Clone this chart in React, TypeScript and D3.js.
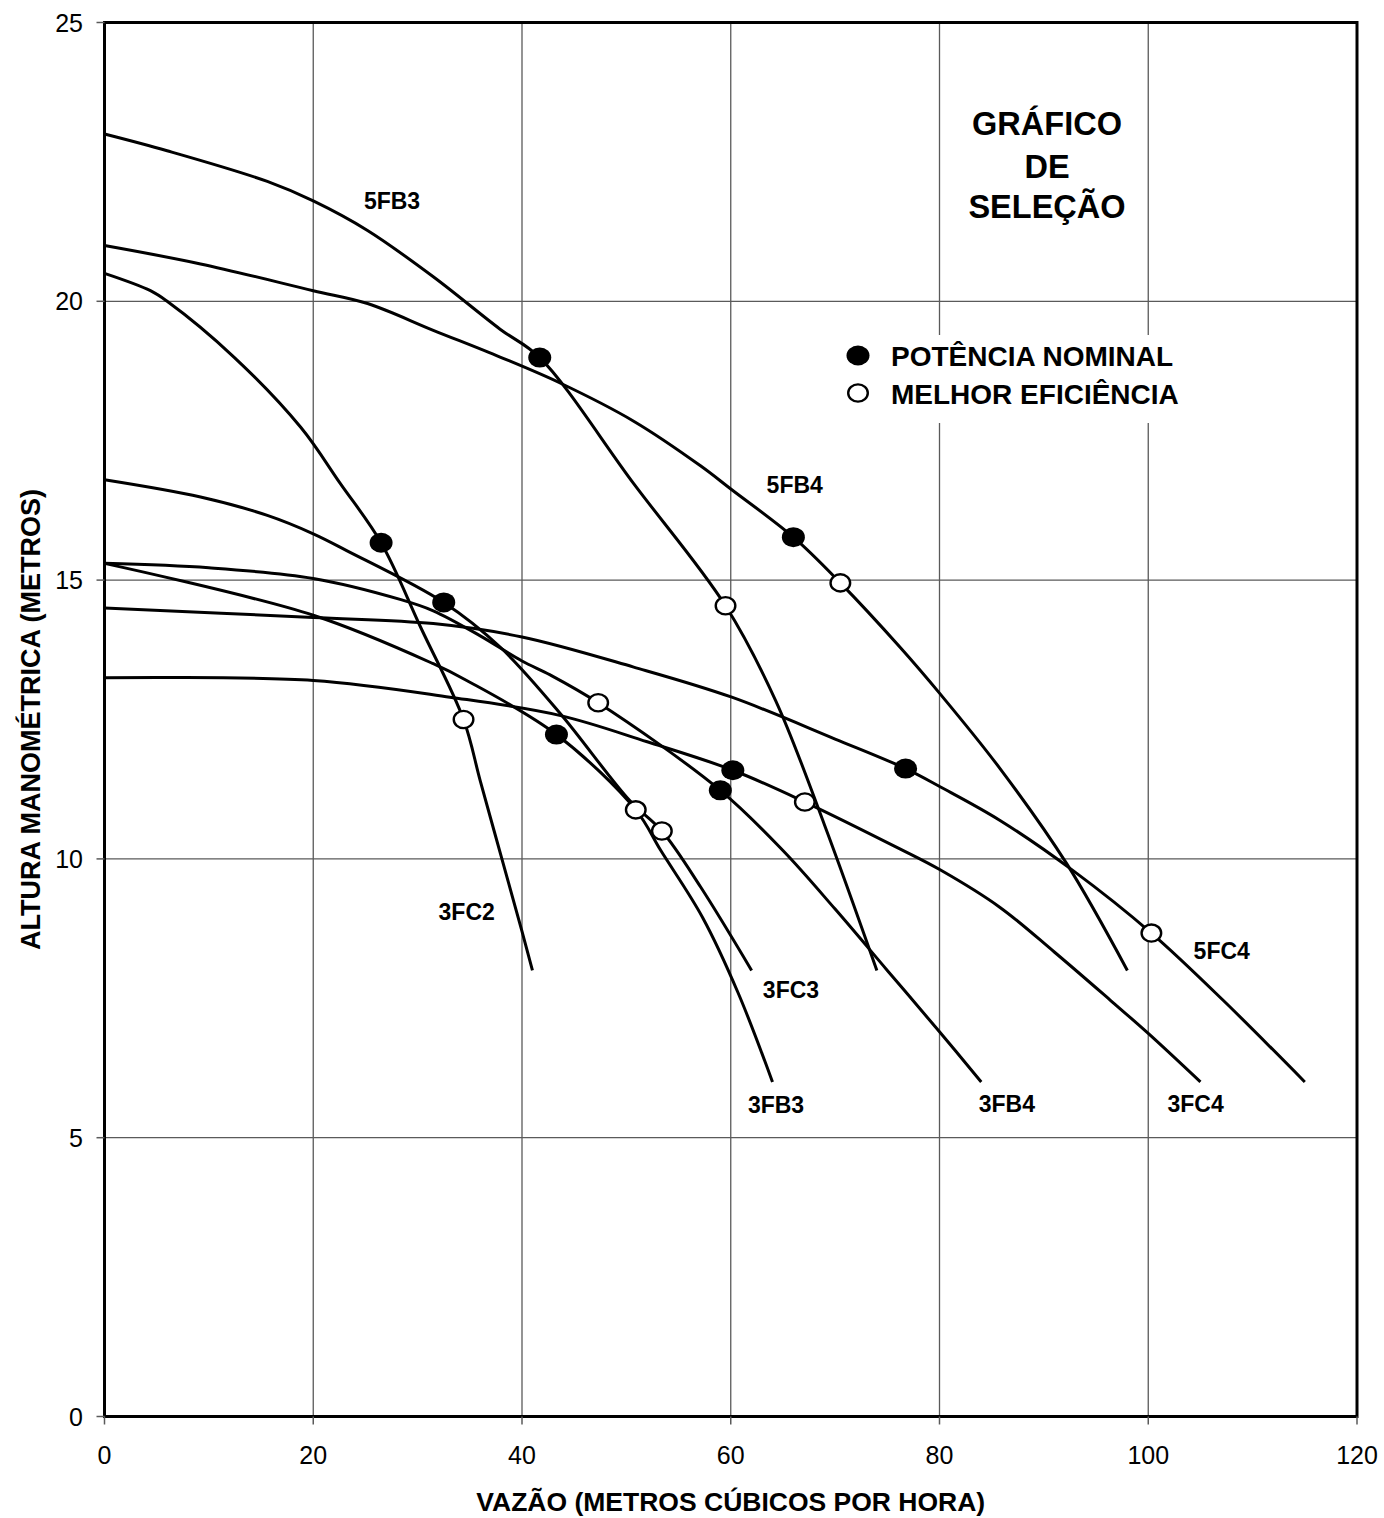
import * as d3 from 'd3';
import { useEffect, useRef } from 'react';

const xTicks = [0, 20, 40, 60, 80, 100, 120];
const yTicks = [0, 5, 10, 15, 20, 25];

const seriesNames = ['5FB3', '5FB4', '5FC4', '3FC2', '3FC3', '3FB3', '3FB4', '3FC4'];

// [vazão m³/h, altura m]
const curve5FB3 = [[0, 23.0], [6, 22.7], [15.6, 22.15], [20, 21.8], [25.2, 21.27], [31.5, 20.44], [37.9, 19.5], [41.7, 18.99], [50.7, 16.73], [59.5, 14.54], [64.3, 12.84], [69, 10.6], [74, 8]];
const curve5FB4 = [[0, 21.0], [9.2, 20.67], [20, 20.19], [25.2, 19.96], [31.5, 19.48], [37.9, 19.0], [43.7, 18.53], [50.7, 17.85], [57.1, 17.05], [60.1, 16.62], [66, 15.77], [70.5, 14.95], [76.2, 13.8], [80.1, 12.95], [85.8, 11.62], [92.2, 9.91], [98, 8]];
const curve5FC4 = [[0, 14.5], [20, 14.33], [31.5, 14.22], [40, 13.98], [50.7, 13.44], [60.1, 12.9], [70, 12.15], [76.75, 11.62], [80.1, 11.29], [85.8, 10.69], [92.8, 9.79], [100.3, 8.67], [107.2, 7.46], [115, 6]];
const curve3FC2 = [[0, 20.5], [4.4, 20.19], [6, 20.0], [12.4, 19.0], [18.8, 17.74], [22.6, 16.73], [26.5, 15.67], [30.3, 14.15], [34.4, 12.5], [36, 11.4], [38, 10.05], [40, 8.7], [41, 8.0]];
const curve3FC3 = [[0, 16.8], [9.2, 16.49], [15.6, 16.16], [20, 15.83], [23.2, 15.53], [32.5, 14.6], [37.9, 13.8], [43.7, 12.6], [50.3, 11.05], [53.4, 10.5], [57.1, 9.5], [62, 8]];
const curve3FB3 = [[0, 15.3], [20, 14.37], [31.5, 13.5], [34.7, 13.2], [43.3, 12.23], [50.9, 10.88], [53.3, 10.15], [57.3, 8.95], [60.7, 7.6], [64, 6]];
const curve3FB4 = [[0, 15.3], [10, 15.22], [20, 15.03], [28.4, 14.65], [31.5, 14.45], [36, 14.0], [40, 13.55], [42.7, 13.3], [47.3, 12.8], [59, 11.23], [65, 10.15], [70, 9.1], [75, 8.0], [80, 6.9], [84, 6]];
const curve3FC4 = [[0, 13.25], [20, 13.2], [33.1, 12.9], [43.7, 12.57], [52, 12.1], [60.2, 11.59], [67.1, 11.02], [76.2, 10.18], [80.1, 9.8], [85.8, 9.13], [91, 8.33], [96.4, 7.46], [100, 6.87], [105, 6]];

const curves = {
    '5FB3': curve5FB3, '5FB4': curve5FB4, '5FC4': curve5FC4, '3FC2': curve3FC2,
    '3FC3': curve3FC3, '3FB3': curve3FB3, '3FB4': curve3FB4, '3FC4': curve3FC4,
};

const potenciaNominal = [['5FB3', 41.7, 18.99], ['5FB4', 66, 15.77], ['5FC4', 76.75, 11.62], ['3FC2', 26.5, 15.67], ['3FC3', 32.5, 14.6], ['3FB3', 43.3, 12.23], ['3FB4', 59, 11.23], ['3FC4', 60.2, 11.59]];
const melhorEficiencia = [['5FB3', 59.5, 14.54], ['5FB4', 70.5, 14.95], ['5FC4', 100.3, 8.67], ['3FC2', 34.4, 12.5], ['3FC3', 53.4, 10.5], ['3FB3', 50.9, 10.88], ['3FB4', 47.3, 12.8], ['3FC4', 67.1, 11.02]];

// where each name sits, in chart units
const labelAt = [['5FB3', 27.55, 21.8], ['5FB4', 66.13, 16.7], ['5FC4', 107.04, 8.35], ['3FC2', 34.7, 9.05], ['3FC3', 65.77, 7.65], ['3FB3', 64.34, 5.59], ['3FB4', 86.45, 5.6], ['3FC4', 104.54, 5.6]];

const titleLines = ['GRÁFICO', 'DE', 'SELEÇÃO'];
const legendItems = ['POTÊNCIA NOMINAL', 'MELHOR EFICIÊNCIA'];

const FONT = "'Liberation Sans', Arial, Helvetica, sans-serif";

function SelectionChart() {
    const svgRef = useRef(null);

    useEffect(() => {
        if (!svgRef.current) return;
        const svg = d3.select(svgRef.current);
        svg.selectAll('*').remove();

        const width = 1384;
        const height = 1518;
        const margin = { top: 22.5, right: 27, bottom: 101.5, left: 104.5 };

        const x = d3.scaleLinear().domain([0, 120]).range([margin.left, width - margin.right]);
        const y = d3.scaleLinear().domain([0, 25]).range([height - margin.bottom, margin.top]);

        svg.append('rect').attr('width', width).attr('height', height).attr('fill', 'white');

        // grid
        svg.append('g').selectAll('line.vx')
            .data(xTicks).enter().append('line')
            .attr('x1', d => x(d)).attr('x2', d => x(d))
            .attr('y1', y(25)).attr('y2', y(0))
            .attr('stroke', '#5a5a5a').attr('stroke-width', 1.3);
        svg.append('g').selectAll('line.hy')
            .data(yTicks).enter().append('line')
            .attr('x1', x(0)).attr('x2', x(120))
            .attr('y1', d => y(d)).attr('y2', d => y(d))
            .attr('stroke', '#5a5a5a').attr('stroke-width', 1.3);

        // legend box hides the grid behind it
        svg.append('rect')
            .attr('x', x(70.3)).attr('y', 335)
            .attr('width', 360).attr('height', 88)
            .attr('fill', 'white');

        const line = d3.line()
            .x(d => x(d[0]))
            .y(d => y(d[1]))
            .curve(d3.curveCatmullRom.alpha(0.5));

        svg.append('g').selectAll('path')
            .data(seriesNames).enter().append('path')
            .attr('d', name => line(curves[name]))
            .attr('fill', 'none')
            .attr('stroke', 'black')
            .attr('stroke-width', 3)
            .attr('stroke-linejoin', 'round');

        svg.append('g').selectAll('ellipse')
            .data(potenciaNominal).enter().append('ellipse')
            .attr('cx', d => x(d[1])).attr('cy', d => y(d[2]))
            .attr('rx', 11.5).attr('ry', 10)
            .attr('fill', 'black');

        svg.append('g').selectAll('ellipse')
            .data(melhorEficiencia).enter().append('ellipse')
            .attr('cx', d => x(d[1])).attr('cy', d => y(d[2]))
            .attr('rx', 9.8).attr('ry', 8.6)
            .attr('fill', 'white').attr('stroke', 'black').attr('stroke-width', 2.4);

        // frame
        svg.append('rect')
            .attr('x', x(0)).attr('y', y(25))
            .attr('width', x(120) - x(0)).attr('height', y(0) - y(25))
            .attr('fill', 'none').attr('stroke', 'black').attr('stroke-width', 3);

        // ticks
        svg.append('g').selectAll('line')
            .data(yTicks).enter().append('line')
            .attr('x1', x(0) - 8).attr('x2', x(0))
            .attr('y1', d => y(d)).attr('y2', d => y(d))
            .attr('stroke', '#5a5a5a').attr('stroke-width', 1.5);
        svg.append('g').selectAll('line')
            .data(xTicks).enter().append('line')
            .attr('x1', d => x(d)).attr('x2', d => x(d))
            .attr('y1', y(0)).attr('y2', y(0) + 8)
            .attr('stroke', '#5a5a5a').attr('stroke-width', 1.5);

        svg.append('g').selectAll('text')
            .data(yTicks).enter().append('text')
            .attr('x', x(0) - 21.5).attr('y', d => y(d) + 9)
            .attr('text-anchor', 'end')
            .attr('font-family', FONT).attr('font-size', 25)
            .text(d => d);
        svg.append('g').selectAll('text')
            .data(xTicks).enter().append('text')
            .attr('x', d => x(d)).attr('y', y(0) + 47.5)
            .attr('text-anchor', 'middle')
            .attr('font-family', FONT).attr('font-size', 25)
            .text(d => d);

        // axis titles
        svg.append('text')
            .attr('x', (x(0) + x(120)) / 2).attr('y', 1511)
            .attr('text-anchor', 'middle')
            .attr('font-family', FONT).attr('font-size', 26.5).attr('font-weight', 'bold')
            .text('VAZÃO (METROS CÚBICOS POR HORA)');
        svg.append('text')
            .attr('transform', `translate(40, ${(y(0) + y(25)) / 2}) rotate(-90)`)
            .attr('text-anchor', 'middle')
            .attr('font-family', FONT).attr('font-size', 27).attr('font-weight', 'bold')
            .text('ALTURA MANOMÉTRICA (METROS)');

        // curve names
        svg.append('g').selectAll('text')
            .data(labelAt).enter().append('text')
            .attr('x', d => x(d[1])).attr('y', d => y(d[2]) + 8)
            .attr('text-anchor', 'middle')
            .attr('font-family', FONT).attr('font-size', 23).attr('font-weight', 'bold')
            .text(d => d[0]);

        // title block
        svg.append('g').selectAll('text')
            .data(titleLines).enter().append('text')
            .attr('x', x(90.3))
            .attr('y', (d, i) => [135, 178, 218][i])
            .attr('text-anchor', 'middle')
            .attr('font-family', FONT).attr('font-size', 32.5).attr('font-weight', 'bold')
            .text(d => d);

        // legend
        const legend = svg.append('g');
        legendItems.forEach((label, i) => {
            const cy = i === 0 ? 355.5 : 393;
            if (i === 0) {
                legend.append('ellipse').attr('cx', 858).attr('cy', cy)
                    .attr('rx', 11.5).attr('ry', 10).attr('fill', 'black');
            } else {
                legend.append('ellipse').attr('cx', 858).attr('cy', cy)
                    .attr('rx', 9.8).attr('ry', 8.6)
                    .attr('fill', 'white').attr('stroke', 'black').attr('stroke-width', 2.4);
            }
            legend.append('text')
                .attr('x', 891).attr('y', cy + 10.5)
                .attr('font-family', FONT).attr('font-size', 28).attr('font-weight', 'bold')
                .text(label);
        });

        return () => {
            d3.select(svgRef.current).selectAll('*').remove();
        };
    }, []);

    return (
        <svg ref={svgRef} width={1384} height={1518}
            style={{ position: 'absolute', left: 0, top: 0, display: 'block' }}></svg>
    );
}

export default function App() {
    return <SelectionChart />;
}
